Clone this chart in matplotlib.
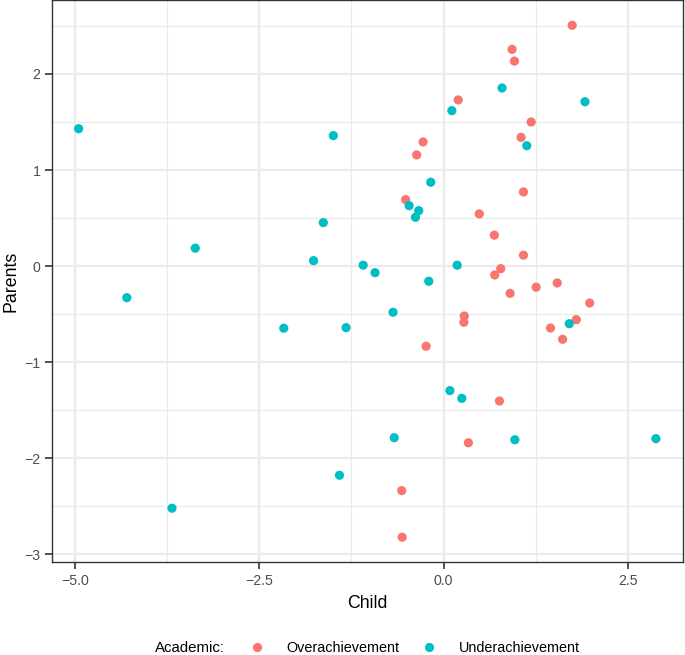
import matplotlib
matplotlib.use("Agg")
import matplotlib.pyplot as plt
from matplotlib.lines import Line2D
import numpy as np

plt.rcParams['font.family'] = ['Liberation Sans', 'DejaVu Sans']

# Data
over_child = [1.748, 0.931, 0.963, 0.200, 1.190, 1.053, -0.277, -0.364, 1.086, -0.514,
              0.486, 0.690, 1.086, 0.777, 0.695, 0.904, 1.258, 1.544, 1.985, 0.282,
              0.277, 1.803, 1.453, 1.617, -0.236, 0.760, 0.338, -0.567, -0.561]
over_parents = [2.507, 2.256, 2.134, 1.730, 1.500, 1.340, 1.292, 1.157, 0.772, 0.692,
                0.543, 0.322, 0.113, -0.027, -0.093, -0.284, -0.220, -0.176, -0.385, -0.520,
                -0.585, -0.558, -0.645, -0.762, -0.835, -1.405, -1.840, -2.338, -2.823]
under_child = [0.795, 0.113, 1.921, 1.131, -0.173, -0.467, -0.336, -0.381, 0.186, -0.200,
               -0.685, 1.708, -0.930, -4.954, -1.496, -1.632, -3.371, -1.764, -1.091, -4.300,
               -2.169, -1.323, 0.087, 0.248, -0.669, 0.969, 2.884, -1.413, -3.687]
under_parents = [1.854, 1.618, 1.711, 1.253, 0.873, 0.629, 0.577, 0.508, 0.009, -0.158,
                 -0.481, -0.600, -0.069, 1.430, 1.358, 0.452, 0.186, 0.056, 0.009, -0.329,
                 -0.647, -0.641, -1.297, -1.377, -1.787, -1.808, -1.797, -2.178, -2.521]
groups = ["Overachievement", "Underachievement"]
colors = ["#F8766D", "#00BFC4"]
x_ticks = [-5.0, -2.5, 0.0, 2.5]
x_tick_labels = ["\u22125.0", "\u22122.5", "0.0", "2.5"]
y_ticks = [-3, -2, -1, 0, 1, 2]
y_tick_labels = ["\u22123", "\u22122", "\u22121", "0", "1", "2"]

fig = plt.figure(figsize=(6.85, 6.55), dpi=100)
ax = fig.add_axes([52.3 / 685, 1 - 562 / 655, (682.7 - 52.3) / 685, 562 / 655])

ax.scatter(over_child, over_parents, s=44, color=colors[0], edgecolors='none', zorder=3)
ax.scatter(under_child, under_parents, s=44, color=colors[1], edgecolors='none', zorder=3)

ax.set_xlim(-5.312, 3.248)
ax.set_ylim(-3.081, 2.770)

ax.set_xticks(x_ticks)
ax.set_xticklabels(x_tick_labels)
ax.set_yticks(y_ticks)
ax.set_yticklabels(y_tick_labels)
ax.set_xticks([-3.75, -1.25, 1.25], minor=True)
ax.set_yticks([-2.5, -1.5, -0.5, 0.5, 1.5, 2.5], minor=True)

ax.grid(which='major', color='#EBEBEB', linewidth=1.6, zorder=0)
ax.grid(which='minor', color='#EBEBEB', linewidth=0.9, zorder=0)
ax.set_axisbelow(True)

for sp in ax.spines.values():
    sp.set_color('#333333')
    sp.set_linewidth(1.0)

ax.tick_params(which='major', length=5, width=1.2, color='#333333',
               labelsize=10.2, labelcolor='#4D4D4D', pad=3.5)
ax.tick_params(which='minor', length=0)

ax.set_xlabel("Child", fontsize=12.8, color='black')
ax.set_ylabel("Parents", fontsize=12.8, color='black')
ax.xaxis.set_label_coords(0.5, -0.058)
ax.yaxis.set_label_coords(-0.052, 0.5)

fig.text(155 / 685, 1 - 648 / 655, "Academic:", fontsize=10.8, va='center', ha='left')
handles = [Line2D([], [], marker='o', linestyle='none', markersize=6.6,
                  markerfacecolor=c, markeredgecolor='none') for c in colors]
fig.legend(handles, groups, loc='center left', bbox_to_anchor=(244 / 685, 1 - 648 / 655),
           ncol=2, frameon=False, fontsize=10.4, handletextpad=1.12, columnspacing=1.18,
           borderpad=0, borderaxespad=0, handlelength=1.8)

fig.savefig("out.png", dpi=100)
